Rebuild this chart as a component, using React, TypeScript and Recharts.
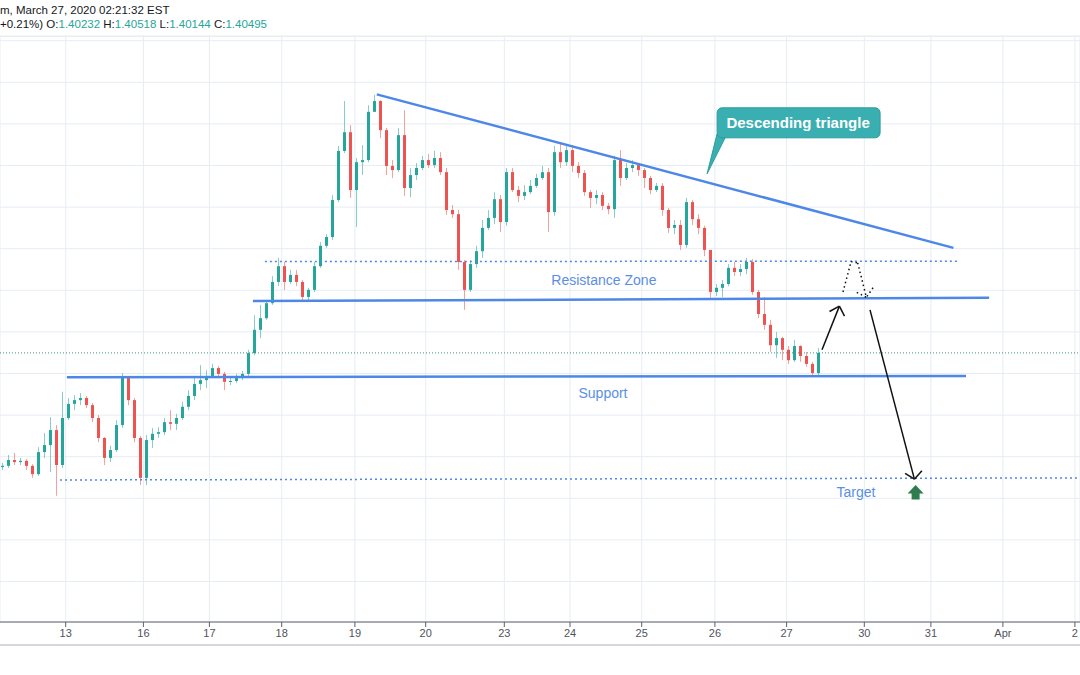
import { ComposedChart, Bar, XAxis, YAxis, CartesianGrid, ReferenceLine, ReferenceDot } from 'recharts';

const UP = '#26a69a';
const DOWN = '#ef5350';
const LINE_BLUE = '#4d87e8';
const TEXT_BLUE = '#5b8ee6';
const FONT = '"Liberation Sans", Arial, sans-serif';

// USD/CAD, 2-hour candles (Mar 12 -> Mar 27 2020)
const firstOpen = 1.3775;
const closes = [
  1.3778, 1.3792, 1.3787, 1.379, 1.3778, 1.3758, 1.3811, 1.3828, 1.3864, 1.378,
  1.3893, 1.3927, 1.3936, 1.3941, 1.3924, 1.3893, 1.3845, 1.3797, 1.3816, 1.3876,
  1.3989, 1.3936, 1.3845, 1.3749, 1.384, 1.3855, 1.3859, 1.3883, 1.3879, 1.3893,
  1.392, 1.3946, 1.3975, 1.3984, 1.3994, 1.4013, 1.3999, 1.398, 1.3982, 1.3989,
  1.3999, 1.4049, 1.4105, 1.4133, 1.4169, 1.422, 1.4258, 1.422, 1.4237, 1.422,
  1.4184, 1.4201, 1.4258, 1.4307, 1.4328, 1.4417, 1.4535, 1.458, 1.4441, 1.4508,
  1.4513, 1.4629, 1.4655, 1.4585, 1.4499, 1.4489, 1.4573, 1.4446, 1.4477, 1.4494,
  1.4513, 1.4501, 1.4518, 1.4484, 1.4393, 1.4383, 1.4268, 1.4201, 1.4263, 1.4294,
  1.435, 1.4374, 1.4419, 1.4364, 1.4484, 1.4441, 1.4427, 1.4436, 1.4451, 1.447,
  1.4484, 1.4388, 1.4532, 1.4508, 1.4537, 1.4499, 1.4482, 1.4436, 1.4422, 1.4429,
  1.4403, 1.4395, 1.4513, 1.447, 1.4494, 1.4501, 1.4489, 1.447, 1.4441, 1.4451,
  1.4393, 1.435, 1.4357, 1.4309, 1.4412, 1.4371, 1.435, 1.4297, 1.4196, 1.4206,
  1.4215, 1.4254, 1.4244, 1.4251, 1.4268, 1.4196, 1.4143, 1.4117, 1.4068, 1.4085,
  1.4057, 1.4032, 1.4066, 1.4042, 1.4023, 1.4001, 1.40495,
];
const highs = [
  1.3785, 1.3804, 1.3809, 1.3797, 1.3794, 1.3782, 1.3823, 1.3857, 1.3895, 1.3876,
  1.3956, 1.3941, 1.3948, 1.3953, 1.3946, 1.3929, 1.39, 1.3847, 1.3826, 1.3888,
  1.4001, 1.3994, 1.3941, 1.385, 1.3852, 1.3869, 1.3871, 1.3893, 1.3912, 1.3903,
  1.3932, 1.396, 1.3989, 1.402, 1.4008, 1.4023, 1.4018, 1.4004, 1.3994, 1.3999,
  1.4006, 1.4057, 1.414, 1.4165, 1.4177, 1.4234, 1.4278, 1.4268, 1.4249, 1.4249,
  1.4225, 1.4206, 1.4268, 1.4316, 1.4335, 1.4429, 1.4547, 1.4655, 1.4597, 1.4518,
  1.4549, 1.4645, 1.467, 1.4657, 1.459, 1.4513, 1.459, 1.4633, 1.4494, 1.4506,
  1.4523, 1.4528, 1.4535, 1.4532, 1.4494, 1.4405, 1.4393, 1.4273, 1.4273, 1.4307,
  1.4369, 1.4393, 1.4436, 1.4429, 1.4494, 1.4494, 1.4451, 1.4453, 1.4465, 1.448,
  1.4499, 1.4494, 1.4547, 1.4554, 1.4552, 1.4549, 1.4508, 1.4489, 1.4441, 1.4441,
  1.4436, 1.441, 1.4523, 1.4537, 1.4506, 1.4513, 1.4506, 1.4494, 1.4475, 1.4458,
  1.4458, 1.4398, 1.4369, 1.4369, 1.4422, 1.4417, 1.4383, 1.4355, 1.4297, 1.4215,
  1.4225, 1.4263, 1.4268, 1.4263, 1.4278, 1.4275, 1.4201, 1.4184, 1.4129, 1.41,
  1.4088, 1.4066, 1.4081, 1.4068, 1.4052, 1.4028, 1.4061,
];
const lows = [
  1.3768, 1.3773, 1.378, 1.378, 1.3768, 1.3749, 1.3754, 1.3797, 1.3763, 1.3706,
  1.3773, 1.3888, 1.3912, 1.3924, 1.3917, 1.3883, 1.3835, 1.378, 1.3787, 1.3811,
  1.3869, 1.3924, 1.3835, 1.3732, 1.3732, 1.3821, 1.3845, 1.3852, 1.3864, 1.3864,
  1.3888, 1.3912, 1.3936, 1.396, 1.3965, 1.3989, 1.3989, 1.396, 1.3972, 1.3977,
  1.3984, 1.3994, 1.4044, 1.4085, 1.4129, 1.4165, 1.421, 1.4201, 1.4215, 1.421,
  1.4177, 1.4177, 1.4196, 1.4254, 1.4302, 1.4321, 1.4412, 1.453, 1.4422, 1.4352,
  1.4477, 1.4508, 1.4629, 1.4566, 1.4477, 1.447, 1.4484, 1.4427, 1.4424, 1.4465,
  1.4489, 1.4494, 1.4494, 1.4477, 1.4381, 1.4374, 1.4249, 1.4153, 1.4196, 1.4254,
  1.4278, 1.4345, 1.4359, 1.434, 1.4355, 1.4436, 1.4412, 1.4417, 1.4431, 1.4446,
  1.4465, 1.434, 1.4379, 1.4494, 1.4499, 1.4484, 1.447, 1.4427, 1.4398, 1.4407,
  1.4393, 1.4383, 1.4374, 1.4451, 1.4465, 1.4484, 1.4475, 1.4446, 1.4431, 1.4436,
  1.4379, 1.4338, 1.4335, 1.4297, 1.4302, 1.4357, 1.4335, 1.4282, 1.4181, 1.4186,
  1.4184, 1.421, 1.4234, 1.4234, 1.4239, 1.4189, 1.4133, 1.4105, 1.4052, 1.4037,
  1.4032, 1.4023, 1.4028, 1.4028, 1.4016, 1.3994, 1.3992,
];

// x axis runs in trading hours from the left edge
const dayTicks = [21.9, 47.8, 69.8, 93.9, 118.3, 141.9, 168.1, 190, 213.9, 238.3, 262.2, 288.1, 310.3, 334.3, 358.3];
const dayLabels = ['13', '16', '17', '18', '19', '20', '23', '24', '25', '26', '27', '30', '31', 'Apr', '2'];
const priceTicks = [1.35, 1.36, 1.37, 1.38, 1.39, 1.4, 1.41, 1.42, 1.43, 1.44, 1.45, 1.46, 1.47, 1.48];
const currentPrice = 1.40495;

// drawn lines: [x1, price1, x2, price2]
const trendLines = [
  [125.6, 1.4671, 317.8, 1.4302],
  [84.3, 1.4174, 329.7, 1.4182],
  [22.3, 1.3991, 322, 1.3994],
];
const dottedLevels = [
  [88.3, 1.4269, 319, 1.427],
  [20, 1.3744, 360, 1.3749],
];
const arrowLines = [
  [274, 1.4057, 279.8, 1.4162],
  [276.5, 1.4149, 279.8, 1.4162],
  [281.5, 1.4138, 279.8, 1.4162],
  [290, 1.4153, 304.8, 1.3746],
  [301.7, 1.376, 304.8, 1.3746],
  [307.3, 1.3766, 304.8, 1.3746],
];
const dottedArrow = [
  [281, 1.4196, 283.7, 1.4269],
  [283.7, 1.4269, 285.9, 1.4266],
  [285.9, 1.4266, 288.8, 1.4183],
  [285.6, 1.4195, 288.8, 1.4183],
  [291, 1.4206, 288.8, 1.4183],
];
const zoneLabels = [
  { x: 201.3, y: 1.4225, text: 'Resistance Zone' },
  { x: 201, y: 1.3953, text: 'Support' },
  { x: 285.3, y: 1.3715, text: 'Target' },
];

const candles = closes.map((close, i) => ({
  t: 2 * i + 1,
  open: i === 0 ? firstOpen : closes[i - 1],
  close,
  high: highs[i],
  low: lows[i],
}));

function Candle(props: any) {
  const { x, y, width, height, payload } = props;
  const { open, close, high, low } = payload;
  const color = close >= open ? UP : DOWN;
  const top = Math.min(y, y + height);
  const h = Math.abs(height);
  const span = high - low || 1e-9;
  const toY = (p: number) => top + ((high - p) / span) * h;
  const bodyTop = toY(Math.max(open, close));
  const bodyBot = toY(Math.min(open, close));
  const left = Math.round(x);
  const cx = left + width / 2;
  return (
    <g>
      <line x1={cx} x2={cx} y1={top} y2={top + h} stroke={color} strokeOpacity={0.55} />
      <rect x={left} y={bodyTop} width={width} height={Math.max(bodyBot - bodyTop, 1)} fill={color} />
    </g>
  );
}

function Callout(props: any) {
  const { cx, cy } = props;
  return (
    <g>
      <polygon points={`${cx},${cy} ${cx + 10},${cy - 40} ${cx + 19},${cy - 38}`} fill="#3aafb1" stroke="#2a9c9e" />
      <rect x={cx + 10} y={cy - 66} width={163} height={30} rx={5} fill="#3aafb1" stroke="#2a9c9e" />
      <text x={cx + 91} y={cy - 51} textAnchor="middle" dominantBaseline="central" fill="#fff" fontSize={15} fontWeight="bold" fontFamily={FONT}>
        Descending triangle
      </text>
    </g>
  );
}

function TargetMark(props: any) {
  const { cx, cy } = props;
  const pts = [
    [0, -7], [8, 1.5], [4, 1.5], [4, 7.5], [-4, 7.5], [-4, 1.5], [-8, 1.5],
  ].map(([dx, dy]) => `${cx + dx},${cy + dy}`).join(' ');
  return <polygon points={pts} fill="#2f7d4e" />;
}

export default function App() {
  return (
    <div style={{ position: 'absolute', left: 0, top: 0, width: 1080, height: 675, background: '#fff', overflow: 'hidden', fontFamily: FONT }}>
      <ComposedChart width={1080} height={675} data={candles} margin={{ top: 36, right: 0, bottom: 30, left: 0 }}>
        <CartesianGrid stroke="#e6edf3" />
        <XAxis
          type="number"
          dataKey="t"
          domain={[0, 360]}
          ticks={dayTicks}
          interval={0}
          allowDataOverflow
          tickFormatter={(v: number) => dayLabels[dayTicks.indexOf(v)]}
          height={23}
          tickSize={5}
          stroke="#5d606b"
          tick={{ fill: '#50535e', fontSize: 11, fontFamily: '"Liberation Sans Narrow", ' + FONT }}
        />
        <YAxis type="number" domain={[1.34026, 1.48113]} ticks={priceTicks} allowDataOverflow hide />
        <ReferenceLine y={currentPrice} stroke="#3d8f80" strokeDasharray="1 2" />
        <Bar dataKey={(d: any) => [d.low, d.high]} barSize={3} shape={<Candle />} isAnimationActive={false} />
        {trendLines.map(([x1, y1, x2, y2], i) => (
          <ReferenceLine key={'t' + i} segment={[{ x: x1, y: y1 }, { x: x2, y: y2 }]} stroke={LINE_BLUE} strokeWidth={2.5} ifOverflow="visible" />
        ))}
        {dottedLevels.map(([x1, y1, x2, y2], i) => (
          <ReferenceLine key={'d' + i} segment={[{ x: x1, y: y1 }, { x: x2, y: y2 }]} stroke={LINE_BLUE} strokeWidth={1.5} strokeDasharray="2 3" ifOverflow="visible" />
        ))}
        {arrowLines.map(([x1, y1, x2, y2], i) => (
          <ReferenceLine key={'a' + i} segment={[{ x: x1, y: y1 }, { x: x2, y: y2 }]} stroke="#111" strokeWidth={1.5} ifOverflow="visible" />
        ))}
        {dottedArrow.map(([x1, y1, x2, y2], i) => (
          <ReferenceLine key={'p' + i} segment={[{ x: x1, y: y1 }, { x: x2, y: y2 }]} stroke="#111" strokeWidth={1.5} strokeDasharray="1.5 3" ifOverflow="visible" />
        ))}
        {zoneLabels.map((l) => (
          <ReferenceDot
            key={l.text}
            x={l.x}
            y={l.y}
            r={0}
            ifOverflow="visible"
            shape={(p: any) => (
              <text x={p.cx} y={p.cy} textAnchor="middle" dominantBaseline="central" fill={TEXT_BLUE} fontSize={14} fontFamily={FONT}>
                {l.text}
              </text>
            )}
          />
        ))}
        <ReferenceDot x={235.7} y={1.448} r={0} ifOverflow="visible" shape={<Callout />} />
        <ReferenceDot x={305.2} y={1.3715} r={0} ifOverflow="visible" shape={<TargetMark />} />
      </ComposedChart>
      <div style={{ position: 'absolute', left: 0, top: 3, fontSize: 11.5, lineHeight: '14px', color: '#131722', whiteSpace: 'nowrap' }}>
        <div>m, March 27, 2020 02:21:32 EST</div>
        <div>
          +0.21%) O:<span style={{ color: UP }}>1.40232</span> H:<span style={{ color: UP }}>1.40518</span> L:
          <span style={{ color: UP }}>1.40144</span> C:<span style={{ color: UP }}>1.40495</span>
        </div>
      </div>
      <div style={{ position: 'absolute', left: 0, top: 36, width: 1080, height: 1, background: '#e6edf3' }} />
      <div style={{ position: 'absolute', left: 0, top: 644, width: 1080, height: 2, background: '#d4d7dc' }} />
    </div>
  );
}
